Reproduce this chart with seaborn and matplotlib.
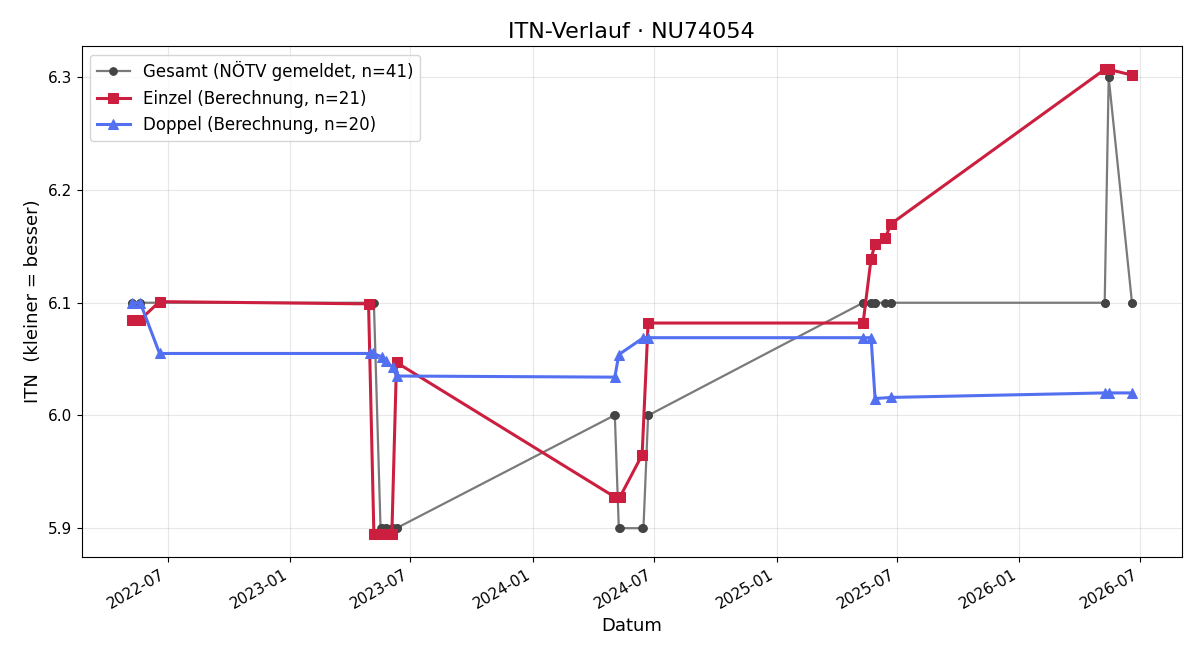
import pandas as pd
import numpy as np
import matplotlib
matplotlib.use("Agg")
import matplotlib.pyplot as plt
import matplotlib.dates as mdates
import seaborn as sns

# Einzel (Berechnung)
einzel_datum = ["2022-05-08", "2022-05-21", "2022-06-19",
                "2023-04-29", "2023-05-07", "2023-05-17", "2023-05-25", "2023-06-03", "2023-06-10",
                "2024-05-02", "2024-05-11", "2024-06-13", "2024-06-22",
                "2025-05-11", "2025-05-23", "2025-05-29", "2025-06-13", "2025-06-22",
                "2026-05-09", "2026-05-15", "2026-06-19"]
einzel_itn = [6.085, 6.085, 6.101,
              6.099, 5.895, 5.895, 5.895, 5.895, 6.047,
              5.928, 5.928, 5.965, 6.082,
              6.082, 6.139, 6.152, 6.157, 6.170,
              6.307, 6.307, 6.302]

# Doppel (Berechnung)
doppel_datum = ["2022-05-08", "2022-05-21", "2022-06-19",
                "2023-05-01", "2023-05-06", "2023-05-19", "2023-05-25", "2023-06-04", "2023-06-10",
                "2024-05-03", "2024-05-09", "2024-06-15", "2024-06-22",
                "2025-05-11", "2025-05-23", "2025-05-29", "2025-06-22",
                "2026-05-09", "2026-05-15", "2026-06-19"]
doppel_itn = [6.100, 6.100, 6.055,
              6.055, 6.055, 6.052, 6.048, 6.043, 6.035,
              6.034, 6.054, 6.069, 6.069,
              6.069, 6.069, 6.015, 6.016,
              6.020, 6.020, 6.020]

# Gesamt (NÖTV gemeldet)
gesamt_datum = ["2022-05-08", "2022-05-08", "2022-05-21", "2022-05-21", "2022-06-19", "2022-06-19",
                "2023-04-29", "2023-05-01", "2023-05-06", "2023-05-07", "2023-05-17", "2023-05-19",
                "2023-05-25", "2023-05-25", "2023-06-03", "2023-06-04", "2023-06-10", "2023-06-10",
                "2024-05-02", "2024-05-03", "2024-05-09", "2024-05-11", "2024-06-13", "2024-06-15",
                "2024-06-22", "2024-06-22",
                "2025-05-11", "2025-05-11", "2025-05-23", "2025-05-23", "2025-05-29", "2025-05-29",
                "2025-06-13", "2025-06-22", "2025-06-22",
                "2026-05-09", "2026-05-09", "2026-05-15", "2026-05-15", "2026-06-19", "2026-06-19"]
gesamt_itn = [6.1, 6.1, 6.1, 6.1, 6.1, 6.1,
              6.1, 6.1, 6.1, 6.1, 5.9, 5.9,
              5.9, 5.9, 5.9, 5.9, 5.9, 5.9,
              6.0, 6.0, 5.9, 5.9, 5.9, 5.9,
              6.0, 6.0,
              6.1, 6.1, 6.1, 6.1, 6.1, 6.1,
              6.1, 6.1, 6.1,
              6.1, 6.1, 6.3, 6.3, 6.1, 6.1]

gesamt = pd.DataFrame({"Datum": pd.to_datetime(gesamt_datum), "ITN": gesamt_itn})
einzel = pd.DataFrame({"Datum": pd.to_datetime(einzel_datum), "ITN": einzel_itn})
doppel = pd.DataFrame({"Datum": pd.to_datetime(doppel_datum), "ITN": doppel_itn})

fig, ax = plt.subplots(figsize=(12, 6.6), dpi=100)

sns.lineplot(data=gesamt, x="Datum", y="ITN", ax=ax, estimator=None, sort=False,
             color="#7a7a7a", linewidth=1.6, marker="o", markersize=5.5,
             markerfacecolor="#444444", markeredgecolor="#444444",
             label=f"Gesamt (NÖTV gemeldet, n={len(gesamt)})")
sns.lineplot(data=einzel, x="Datum", y="ITN", ax=ax, estimator=None, sort=False,
             color="#cc1f3f", linewidth=2.2, marker="s", markersize=7,
             markeredgecolor="#cc1f3f",
             label=f"Einzel (Berechnung, n={len(einzel)})")
sns.lineplot(data=doppel, x="Datum", y="ITN", ax=ax, estimator=None, sort=False,
             color="#5370f0", linewidth=2.2, marker="^", markersize=7,
             markeredgecolor="#5370f0",
             label=f"Doppel (Berechnung, n={len(doppel)})")

ax.set_title("ITN-Verlauf · NU74054", fontsize=16)
ax.set_xlabel("Datum", fontsize=13)
ax.set_ylabel("ITN  (kleiner = besser)", fontsize=13)
ax.grid(True, alpha=0.3)
ax.set_yticks([5.9, 6.0, 6.1, 6.2, 6.3])
ax.xaxis.set_major_locator(mdates.MonthLocator(bymonth=[1, 7]))
ax.xaxis.set_major_formatter(mdates.DateFormatter("%Y-%m"))
ax.tick_params(labelsize=11)
plt.setp(ax.get_xticklabels(), rotation=30, ha="right")
ax.legend(loc="upper left", fontsize=12)

fig.subplots_adjust(left=0.068, right=0.985, top=0.930, bottom=0.156)
fig.savefig("out.png", dpi=100)
